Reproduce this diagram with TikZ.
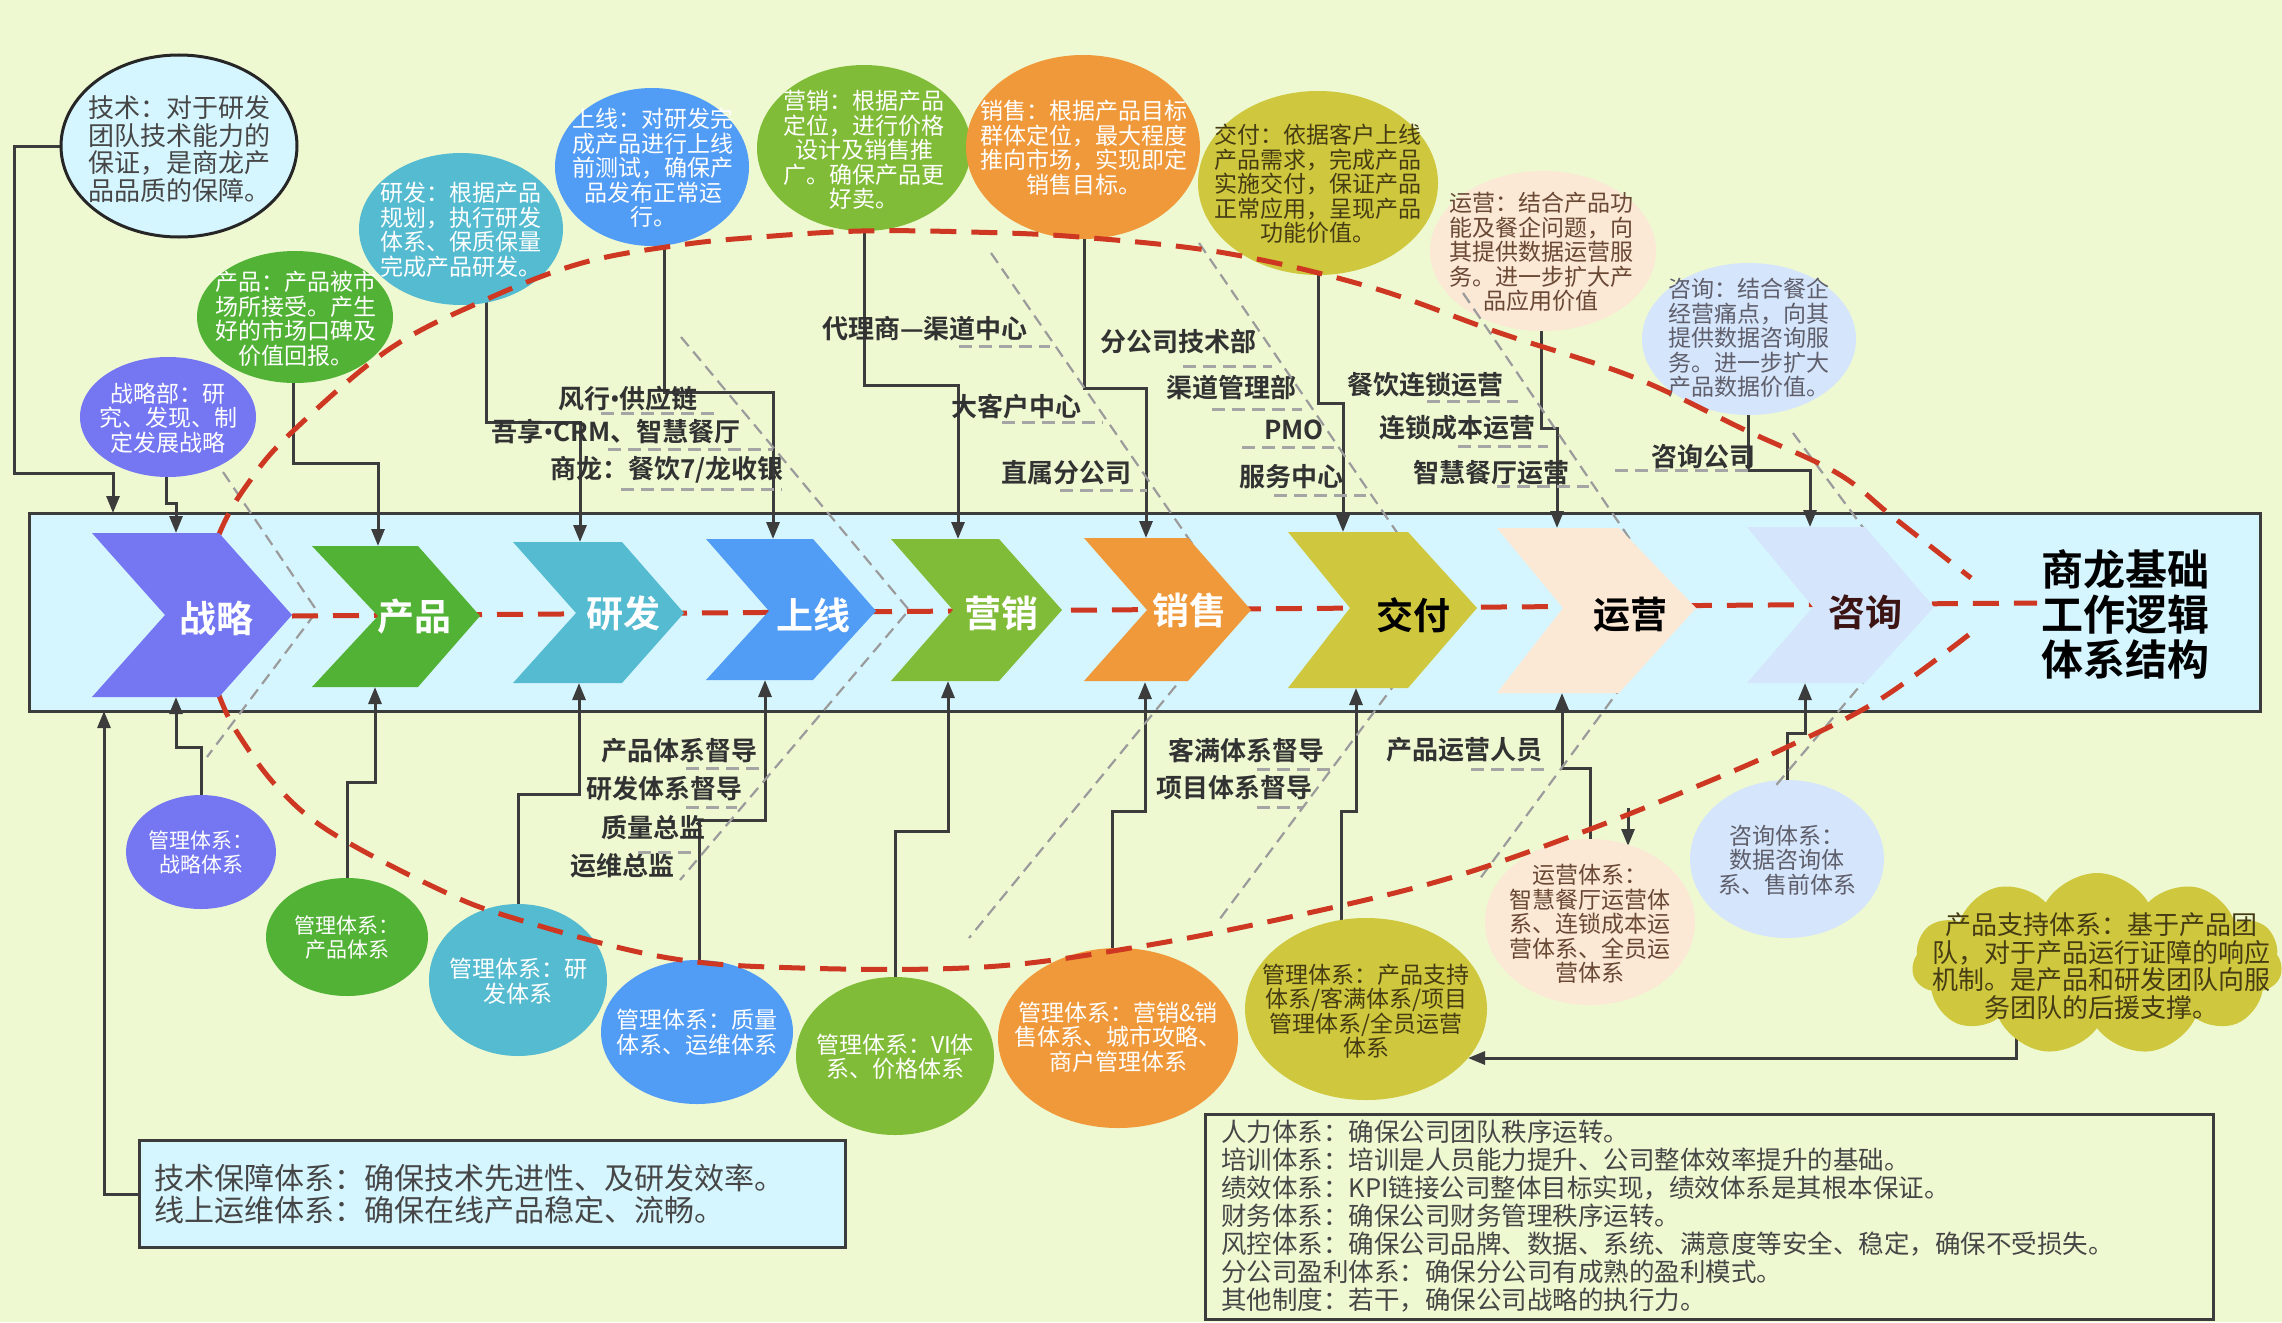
\documentclass[tikz,border=0pt]{standalone}
\usepackage{fontspec}
\setmainfont{Noto Sans CJK SC}[BoldFont={Noto Sans CJK SC Bold}]
\newfontfamily\latinf{Noto Sans}
\newcommand{\dotsep}{{\latinf\bfseries •}}
\usetikzlibrary{shapes.geometric,shapes.symbols,arrows.meta,calc}
\definecolor{bgc}{RGB}{238,249,210}
\definecolor{bandc}{RGB}{214,246,255}
\definecolor{linec}{RGB}{60,60,60}
\definecolor{purc}{RGB}{116,119,241}
\definecolor{grnA}{RGB}{82,178,54}
\definecolor{tealc}{RGB}{85,187,208}
\definecolor{bluec}{RGB}{81,156,245}
\definecolor{grnB}{RGB}{128,188,55}
\definecolor{orac}{RGB}{240,153,58}
\definecolor{olvc}{RGB}{207,199,61}
\definecolor{pchc}{RGB}{251,232,213}
\definecolor{lbc}{RGB}{213,229,251}
\definecolor{redc}{RGB}{206,56,34}
\definecolor{ribc}{RGB}{155,155,155}
\definecolor{ulc}{RGB}{165,165,165}
\definecolor{lblc}{RGB}{50,50,50}
\definecolor{txgry}{RGB}{70,70,70}
\definecolor{txolv}{RGB}{70,60,20}
\definecolor{txbrn}{RGB}{105,72,52}
\definecolor{txblu}{RGB}{95,95,108}
\definecolor{txzx}{RGB}{60,20,20}
\pgfdeclarelayer{back}
\pgfdeclarelayer{conn}
\pgfdeclarelayer{over}
\pgfdeclarelayer{top}
\pgfsetlayers{back,conn,main,over,top}
\tikzset{
  bub/.style={ellipse, inner sep=0pt, draw=none},
  conn/.style={draw=linec, line width=3pt},
  arr/.style={conn, -{Triangle[width=13pt,length=17pt]}},
  rib/.style={draw=ribc, line width=2.2pt, dash pattern=on 12pt off 7pt},
  uline/.style={draw=ulc, line width=3pt, dash pattern=on 13pt off 7pt},
  redd/.style={draw=redc, line width=5pt, dash pattern=on 26pt off 15pt},
  lbl/.style={font=\bfseries\fontsize{26}{28}\selectfont, text=lblc, inner sep=0pt},
  ctxt/.style={align=center, inner sep=0pt, font=\fontsize{23}{24.5}\selectfont},
  stxt/.style={align=center, inner sep=0pt, font=\fontsize{21}{24}\selectfont},
  clab/.style={font=\bfseries\fontsize{37}{40}\selectfont, inner sep=0pt},
}
\begin{document}
\begin{tikzpicture}[x=1pt,y=-1pt]
\useasboundingbox (0,0) rectangle (2282,1322);
\begin{pgfonlayer}{back}
\fill[bgc] (0,0) rectangle (2282,1322);
\draw[fill=bandc, draw=linec, line width=3pt] (29,513) rectangle (2260,711);
\end{pgfonlayer}

% ---------- top circles ----------
\node[bub, fill=bandc, draw=black!85, line width=3pt, minimum width=236pt, minimum height=182pt] (c1) at (179,146) {};
\node[ctxt, text=txgry, align=left, font=\fontsize{26}{27.5}\selectfont] (c1t) at (179,149) {技术：对于研发\\团队技术能力的\\保证，是商龙产\\品品质的保障。};
\node[bub, fill=purc, minimum width=176pt, minimum height=120pt] (c2) at (168,417) {};
\node[ctxt, text=white] (c2t) at (168,418) {战略部：研\\究、发现、制\\定发展战略};
\node[bub, fill=grnA, minimum width=196pt, minimum height=132pt] (c3) at (295,317) {};
\node[ctxt, text=white] (c3t) at (296,319) {产品：产品被市\\场所接受。产生\\好的市场口碑及\\价值回报。};
\node[bub, fill=tealc, minimum width=204pt, minimum height=152pt] (c4) at (461,229) {};
\node[ctxt, text=white] (c4t) at (461,230) {研发：根据产品\\规划，执行研发\\体系、保质保量\\完成产品研发。};
\node[bub, fill=bluec, minimum width=194pt, minimum height=158pt] (c5) at (652,167) {};
\node[ctxt, text=white] (c5t) at (653,168) {上线：对研发完\\成产品进行上线\\前测试，确保产\\品发布正常运\\行。};
\node[bub, fill=grnB, minimum width=214pt, minimum height=166pt] (c6) at (864,148) {};
\node[ctxt, text=white] (c6t) at (864,150) {营销：根据产品\\定位，进行价格\\设计及销售推\\广。确保产品更\\好卖。};
\node[bub, fill=orac, minimum width=234pt, minimum height=184pt] (c7) at (1083,147) {};
\node[ctxt, text=white] (c7t) at (1084,148) {销售：根据产品目标\\群体定位，最大程度\\推向市场，实现即定\\销售目标。};
\node[bub, fill=olvc, minimum width=240pt, minimum height=184pt] (c8) at (1318,183) {};
\node[ctxt, text=txolv] (c8t) at (1318,184) {交付：依据客户上线\\产品需求，完成产品\\实施交付，保证产品\\正常应用，呈现产品\\功能价值。};
\node[bub, fill=pchc, minimum width=226pt, minimum height=160pt] (c9) at (1543,251) {};
\node[ctxt, text=txbrn] (c9t) at (1541,252) {运营：结合产品功\\能及餐企问题，向\\其提供数据运营服\\务。进一步扩大产\\品应用价值};
\node[bub, fill=lbc, minimum width=214pt, minimum height=152pt] (c10) at (1749,339) {};
\node[ctxt, text=txblu] (c10t) at (1749,338) {咨询：结合餐企\\经营痛点，向其\\提供数据咨询服\\务。进一步扩大\\产品数据价值。};

% ---------- bottom circles ----------
\node[bub, fill=purc, minimum width=150pt, minimum height=114pt] (c11) at (201,852) {};
\node[stxt, text=white] (c11t) at (201,852) {管理体系：\\战略体系};
\node[bub, fill=grnA, minimum width=162pt, minimum height=118pt] (c13) at (347,937) {};
\node[stxt, text=white] (c13t) at (347,938) {管理体系：\\产品体系};
\node[bub, fill=tealc, minimum width=178pt, minimum height=152pt] (c14) at (518,980) {};
\node[ctxt, text=white] (c14t) at (518,981) {管理体系：研\\发体系};
\node[bub, fill=bluec, minimum width=192pt, minimum height=144pt] (c15) at (697,1032) {};
\node[ctxt, text=white] (c15t) at (697,1032) {管理体系：质量\\体系、运维体系};
\node[bub, fill=grnB, minimum width=198pt, minimum height=158pt] (c16) at (895,1056) {};
\node[ctxt, text=white] (c16t) at (895,1057) {管理体系：VI体\\系、价格体系};
\node[bub, fill=orac, minimum width=240pt, minimum height=180pt] (c17) at (1118,1038) {};
\node[ctxt, text=white] (c17t) at (1118,1037) {管理体系：营销\&销\\售体系、城市攻略、\\商户管理体系};
\node[bub, fill=olvc, minimum width=242pt, minimum height=182pt] (c18) at (1366,1009) {};
\node[ctxt, text=txolv] (c18t) at (1366,1011) {管理体系：产品支持\\体系/客满体系/项目\\管理体系/全员运营\\体系};
\node[bub, fill=pchc, minimum width=210pt, minimum height=166pt] (c19) at (1590,922) {};
\node[ctxt, text=txbrn] (c19t) at (1590,924) {运营体系：\\智慧餐厅运营体\\系、连锁成本运\\营体系、全员运\\营体系};
\node[bub, fill=lbc, minimum width=194pt, minimum height=158pt] (c20) at (1787,859) {};
\node[ctxt, text=txblu] (c20t) at (1787,860) {咨询体系：\\数据咨询体\\系、售前体系};
\node[cloud, cloud puffs=11, cloud puff arc=120, aspect=2, fill=olvc, inner sep=0pt, minimum width=370pt, minimum height=182pt] (cloud) at (2097,964) {};
\node[align=center, inner sep=0pt, text=txolv, font=\fontsize{26}{27.5}\selectfont] (cloudt) at (2101,966) {产品支持体系：基于产品团\\队，对于产品运行证障的响应\\机制。是产品和研发团队向服\\务团队的后援支撑。};

% ---------- boxes ----------
\node[draw=linec, fill=bandc, line width=3pt, anchor=north west, inner sep=0pt, minimum width=706pt, minimum height=107pt] (box1) at (138,1139) {};
\node[anchor=west, align=left, inner sep=0pt, text=txgry, font=\fontsize{30}{32}\selectfont] (box1t) at (154,1194) {技术保障体系：确保技术先进性、及研发效率。\\线上运维体系：确保在线产品稳定、流畅。};
\node[draw=linec, line width=3pt, anchor=north west, inner sep=0pt, minimum width=1008pt, minimum height=205pt] (box2) at (1204,1113) {};
\node[anchor=west, align=left, inner sep=0pt, text=txgry, font=\fontsize{25.5}{28}\selectfont] (box2t) at (1221,1216) {人力体系：确保公司团队秩序运转。\\培训体系：培训是人员能力提升、公司整体效率提升的基础。\\绩效体系：KPI链接公司整体目标实现，绩效体系是其根本保证。\\财务体系：确保公司财务管理秩序运转。\\风控体系：确保公司品牌、数据、系统、满意度等安全、稳定，确保不受损失。\\分公司盈利体系：确保分公司有成熟的盈利模式。\\其他制度：若干，确保公司战略的执行力。};

% ---------- labels ----------
\node[lbl] (l1) at (628,399) {风行\dotsep 供应链};
\node[lbl] (l2) at (616,432) {吾享\dotsep CRM、智慧餐厅};
\node[lbl] (l3) at (667,470) {商龙：餐饮7/龙收银};
\node[lbl] (l4) at (925,329) {代理商—渠道中心};
\node[lbl] (l5) at (1016,407) {大客户中心};
\node[lbl] (l6) at (1066,473) {直属分公司};
\node[lbl] (l7) at (1178,342) {分公司技术部};
\node[lbl] (l8) at (1231,388) {渠道管理部};
\node[lbl] (l9) at (1294,430) {PMO};
\node[lbl] (l10) at (1291,477) {服务中心};
\node[lbl] (l11) at (1425,385) {餐饮连锁运营};
\node[lbl] (l12) at (1457,428) {连锁成本运营};
\node[lbl] (l13) at (1491,473) {智慧餐厅运营};
\node[lbl] (l14) at (1703,457) {咨询公司};
\node[lbl] (l15) at (679,751) {产品体系督导};
\node[lbl] (l16) at (664,789) {研发体系督导};
\node[lbl] (l17) at (653,828) {质量总监};
\node[lbl] (l18) at (622,866) {运维总监};
\node[lbl] (l19) at (1246,750) {客满体系督导};
\node[lbl] (l20) at (1234,788) {项目体系督导};
\node[lbl] (l21) at (1464,750) {产品运营人员};
\draw[uline] (601,413) -- (715,413);
\draw[uline] (608,449) -- (773,449);
\draw[uline] (621,489) -- (782,489);
\draw[uline] (959,346) -- (1050,346);
\draw[uline] (1002,422) -- (1103,422);
\draw[uline] (1060,490) -- (1147,490);
\draw[uline] (1183,366) -- (1272,366);
\draw[uline] (1212,409) -- (1302,409);
\draw[uline] (1242,447) -- (1334,447);
\draw[uline] (1274,495) -- (1366,495);
\draw[uline] (1427,401) -- (1518,401);
\draw[uline] (1458,446) -- (1548,446);
\draw[uline] (1497,486) -- (1589,486);
\draw[uline] (1615,470) -- (1750,470);
\draw[uline] (686,768) -- (762,768);
\draw[uline] (686,807) -- (737,807);
\draw[uline] (638,852) -- (691,852);
\draw[uline] (1257,769) -- (1333,769);
\draw[uline] (1257,807) -- (1303,807);
\draw[uline] (1471,769) -- (1549,769);

% ---------- connectors ----------
\begin{pgfonlayer}{conn}
\coordinate (ta) at (113,513);
\coordinate (t2) at (176,533);
\coordinate (t3) at (378,546);
\coordinate (t4) at (580,542);
\coordinate (t5) at (773,539);
\coordinate (t6) at (958,539);
\coordinate (t7) at (1146,538);
\coordinate (t8) at (1343,532);
\coordinate (t9) at (1557,528);
\coordinate (t10) at (1810,527);
\coordinate (b11) at (176,697);
\coordinate (b12) at (104,711);
\coordinate (b13) at (375,687);
\coordinate (b14) at (579,683);
\coordinate (b15) at (765,680);
\coordinate (b16) at (948,681);
\coordinate (b17) at (1145,682);
\coordinate (b18) at (1356,688);
\coordinate (b19) at (1562,693);
\coordinate (b20) at (1805,683);
\coordinate (a21) at (1468,1058);
\coordinate (s22) at (1628,808);
\coordinate (e22) at (1628,846);
\draw[arr] (c1.west) -- (14,146) -- (14,473) -- (113,473) -- (ta);
\draw[arr] ($(c2)+(-2,0)$) -- (166,503) -- (176,503) -- (t2);
\draw[arr] ($(c3)+(-2,0)$) -- (293,463) -- (378,463) -- (t3);
\draw[arr] ($(c4)+(25,0)$) -- (486,422) -- (580,422) -- (t4);
\draw[arr] ($(c5)+(12,0)$) -- (664,392) -- (773,392) -- (t5);
\draw[arr] (c6) -- (864,385) -- (958,385) -- (t6);
\draw[arr] ($(c7)+(1,0)$) -- (1084,388) -- (1146,388) -- (t7);
\draw[arr] (c8) -- (1318,403) -- (1343,403) -- (t8);
\draw[arr] ($(c9)+(-2,0)$) -- (1541,428) -- (1557,428) -- (t9);
\draw[arr] ($(c10)+(-1,0)$) -- (1748,470) -- (1810,470) -- (t10);
\draw[arr] (c11) -- (201,747) -- (176,747) -- (b11);
\draw[arr] (box1.west) -| (b12);
\draw[arr] (c13) -- (347,782) -- (375,782) -- (b13);
\draw[arr] (c14) -- (518,794) -- (579,794) -- (b14);
\draw[arr] ($(c15)+(2,0)$) -- (699,820) -- (765,820) -- (b15);
\draw[arr] (c16) -- (895,831) -- (948,831) -- (b16);
\draw[arr] ($(c17)+(-6,0)$) -- (1112,811) -- (1145,811) -- (b17);
\draw[arr] ($(c18)+(-25,0)$) -- (1341,811) -- (1356,811) -- (b18);
\draw[arr] (c19) -- (1590,768) -- (1562,768) -- (b19);
\draw[arr] (c20) -- (1787,733) -- (1805,733) -- (b20);
\draw[arr] ($(cloud)+(-81,0)$) -- (2016,1058) -- (a21);
\draw[arr] (s22) -- (e22);
\end{pgfonlayer}

% ---------- gray ribs and red lens ----------
\begin{pgfonlayer}{over}
\draw[rib] (223,472) -- (317,611) -- (207,757);
\draw[rib] (681,337) -- (909,610) -- (680,880);
\draw[rib] (991,253) -- (1238,610) -- (969,938);
\draw[rib] (1199,243) -- (1450,610) -- (1219,920);
\draw[rib] (1463,293) -- (1678,610) -- (1479,880);
\draw[rib] (1793,433) -- (1924,610) -- (1772,790);
\draw[redd] (292,616) -- (2037,603);
\draw[redd] plot[smooth, tension=0.6] coordinates {(192,615) (220,532) (249,482) (291,433) (388,350) (485,300) (582,263) (680,245) (760,237) (861,231) (970,232) (1079,237) (1225,253) (1370,287) (1500,333) (1633,377) (1745,430) (1837,473) (1893,517) (1971,578)};
\draw[redd] plot[smooth, tension=0.6] coordinates {(192,615) (220,698) (242,740) (280,790) (332,833) (434,887) (510,917) (663,957) (800,968) (984,967) (1137,947) (1290,917) (1443,880) (1580,833) (1700,785) (1787,747) (1879,700) (1971,633)};
\end{pgfonlayer}

% ---------- chevrons ----------
\begin{pgfonlayer}{top}
\fill[purc] (92,533) -- (219,533) -- (292,615) -- (219,697) -- (92,697) -- (165,615) -- cycle;
\fill[grnA] (312,546) -- (418,546) -- (480,616) -- (418,687) -- (312,687) -- (378,616) -- cycle;
\fill[tealc] (513,542) -- (622,542) -- (684,613) -- (622,683) -- (513,683) -- (576,613) -- cycle;
\fill[bluec] (706,539) -- (813,539) -- (876,611) -- (813,680) -- (706,680) -- (769,611) -- cycle;
\fill[grnB] (891,539) -- (999,539) -- (1062,610) -- (999,681) -- (891,681) -- (953,610) -- cycle;
\fill[orac] (1084,538) -- (1188,538) -- (1251,610) -- (1188,681) -- (1084,681) -- (1147,610) -- cycle;
\fill[olvc] (1288,532) -- (1408,532) -- (1477,608) -- (1408,688) -- (1288,688) -- (1350,608) -- cycle;
\fill[pchc] (1497,528) -- (1619,528) -- (1696,608) -- (1619,693) -- (1497,693) -- (1563,608) -- cycle;
\fill[lbc] (1747,527) -- (1865,527) -- (1934,607) -- (1865,683) -- (1747,683) -- (1813,607) -- cycle;
\node[clab, text=white] (s1) at (216,618) {战略};
\node[clab, text=white] (s2) at (414,617) {产品};
\node[clab, text=white] (s3) at (623,613) {研发};
\node[clab, text=white] (s4) at (813,615) {上线};
\node[clab, text=white] (s5) at (1001,613) {营销};
\node[clab, text=white] (s6) at (1189,610) {销售};
\node[clab, text=black] (s7) at (1413,615) {交付};
\node[clab, text=black] (s8) at (1630,615) {运营};
\node[clab, text=txzx] (s9) at (1865,612) {咨询};
\node[align=center, inner sep=0pt, font=\bfseries\fontsize{42}{45}\selectfont] (title) at (2125,614) {商龙基础\\工作逻辑\\体系结构};
\end{pgfonlayer}
\end{tikzpicture}
\end{document}
